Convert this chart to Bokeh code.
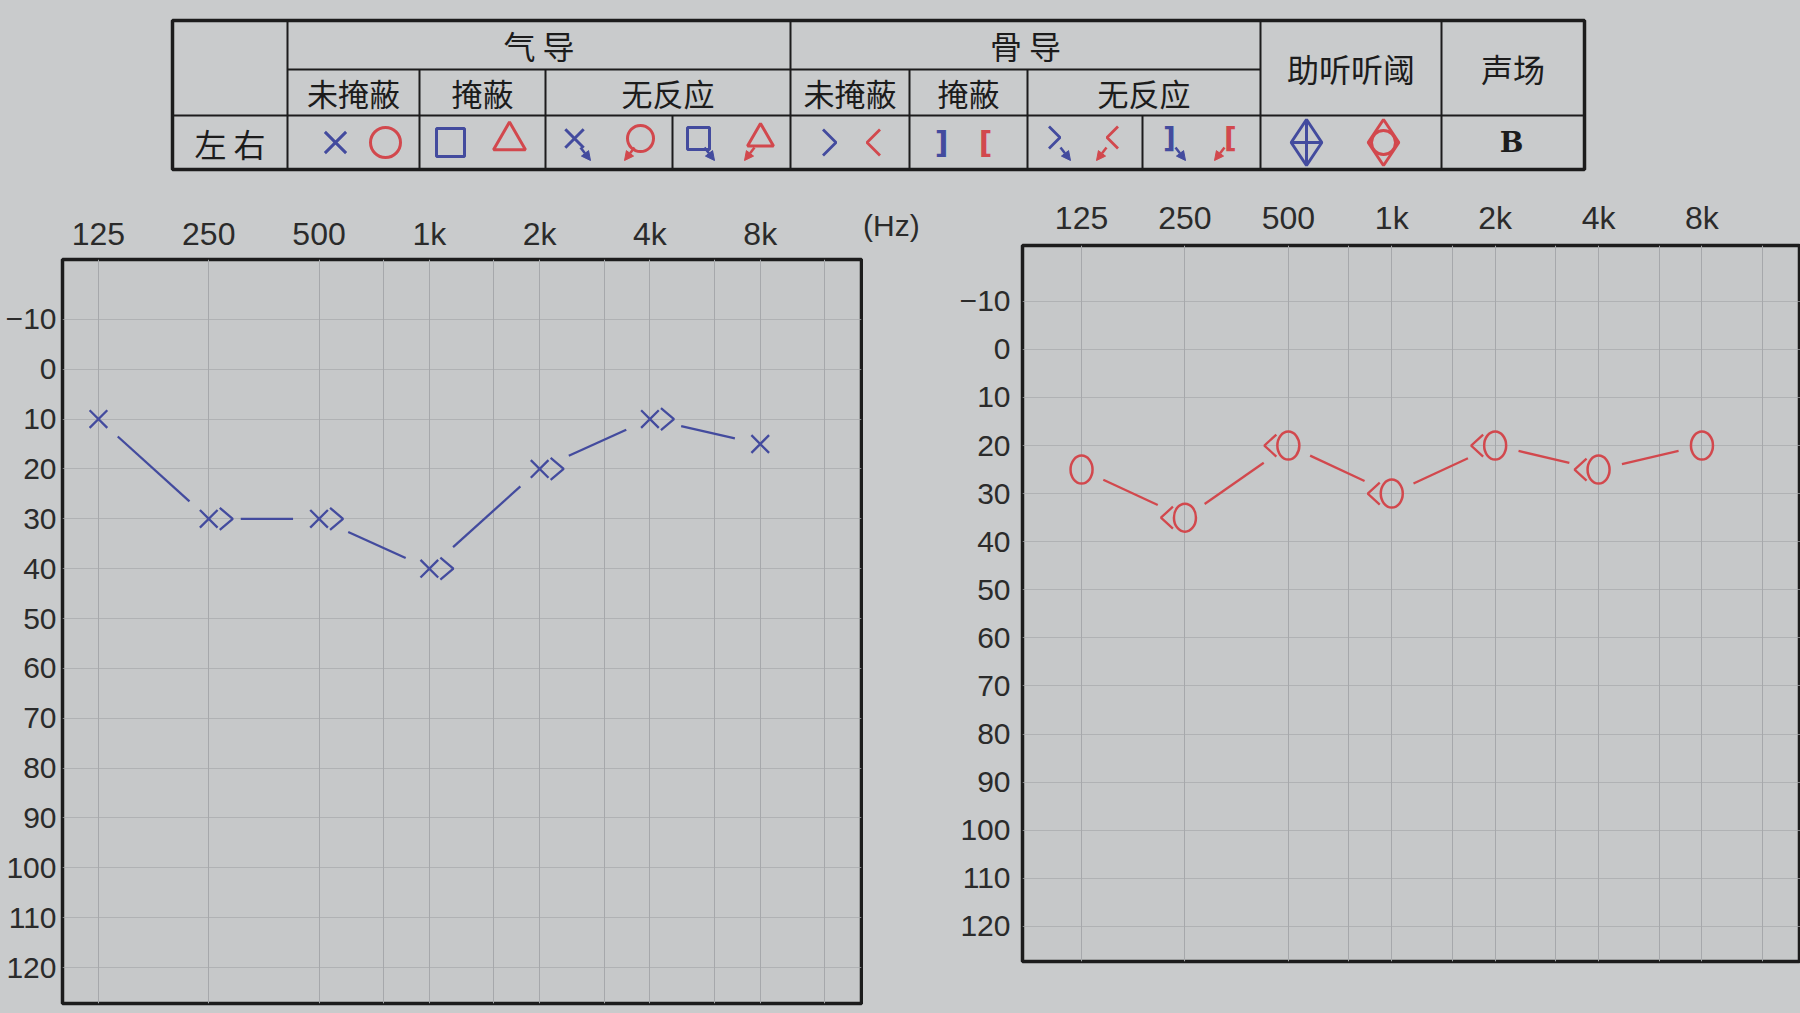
import numpy as np
from bokeh.plotting import figure
from bokeh.layouts import column, row
from bokeh.models import Range1d, FixedTicker, Arrow, NormalHead, Div
from bokeh.embed import file_html
from bokeh.resources import INLINE
from bokeh.core.properties import value

# ---------------- data ----------------
freqs = [125, 250, 500, 1000, 2000, 4000, 8000]
freq_labels = ["125", "250", "500", "1k", "2k", "4k", "8k"]
half_octaves = [750, 1500, 3000, 6000, 12000]
db_ticks = list(range(-10, 130, 10))

left_air_db = [10, 30, 30, 40, 20, 10, 15]
left_bone_freqs = [250, 500, 1000, 2000, 4000]
left_bone_db = [30, 30, 40, 20, 10]

right_air_db = [25, 35, 20, 30, 20, 25, 20]
right_bone_freqs = [250, 500, 1000, 2000, 4000]
right_bone_db = [35, 20, 30, 20, 25]

# legend table texts
hdr_air = "气 导"
hdr_bone = "骨 导"
hdr_sub = ["未掩蔽", "掩蔽", "无反应"]
hdr_aided = "助听听阈"
hdr_field = "声场"
hdr_ear = "左 右"
unit_label = "(Hz)"

# ---------------- style ----------------
BLUE = "#434b9e"
RED = "#d2484d"
PAPER = "#c9cbcc"
FRAME = "#c6c8c9"
GRID = "#a6a8ab"
INK = "#1c1c1c"
LBL = "#2b2b2b"
CJK = "Noto Sans CJK SC"
NUMF = "Liberation Sans"

# ---------------- legend table ----------------
TW, TH = 1800, 180
t = figure(width=TW, height=TH, x_range=Range1d(0, TW), y_range=Range1d(TH, 0),
           output_backend="svg", toolbar_location=None, min_border=0)
t.axis.visible = False
t.grid.visible = False
t.outline_line_color = None
t.background_fill_color = PAPER
t.border_fill_color = PAPER

L, R, T0, R1, R2, B0 = 172, 1584, 20, 69, 115, 169
cols = [172, 287, 419, 545, 672, 790, 909, 1027, 1142, 1260, 1441, 1584]

t.quad(left=L, right=R, top=T0, bottom=B0, fill_color=None, line_color=INK, line_width=3.5)
segs = [
    (cols[1], T0, cols[1], B0), (cols[5], T0, cols[5], B0), (cols[9], T0, cols[9], B0),
    (cols[10], T0, cols[10], B0), (cols[1], R1, cols[9], R1), (L, R2, R, R2),
    (cols[2], R1, cols[2], B0), (cols[3], R1, cols[3], B0), (cols[6], R1, cols[6], B0),
    (cols[7], R1, cols[7], B0), (cols[4], R2, cols[4], B0), (cols[8], R2, cols[8], B0),
]
t.segment(x0=[s[0] for s in segs], y0=[s[1] for s in segs], x1=[s[2] for s in segs],
          y1=[s[3] for s in segs], line_color=INK, line_width=2)

def ttext(x, y, s, size="32px", color=INK, font=CJK, style="normal"):
    t.text(x=[x], y=[y], text=[s], text_font=value(font), text_font_size=size,
           text_color=color, text_align="center", text_baseline="middle", text_font_style=style)

def tchev(cx, cy, d, w, h, color):
    # chevron pointing right (d=1) or left (d=-1), in table pixel space
    t.line(x=[cx - d * w / 2, cx + d * w / 2, cx - d * w / 2], y=[cy - h / 2, cy, cy + h / 2],
           line_color=color, line_width=2.8)

mid = lambda a, b: (a + b) / 2
ttext(mid(cols[1], cols[5]), mid(T0, R1), hdr_air)
ttext(mid(cols[5], cols[9]), mid(T0, R1), hdr_bone)
ttext(mid(cols[9], cols[10]), mid(T0, R2), hdr_aided)
ttext(mid(cols[10], cols[11]), mid(T0, R2), hdr_field)
for (a, b), s in zip([(1, 2), (2, 3), (3, 5), (5, 6), (6, 7), (7, 9)], hdr_sub * 2):
    ttext(mid(cols[a], cols[b]), mid(R1, R2), s, size="31px")
ttext(mid(cols[0], cols[1]), mid(R2, B0), hdr_ear, size="32px")

sy = mid(R2, B0)
t.scatter([335], [sy], marker="x", size=30, line_color=BLUE, line_width=3)
t.scatter([385], [sy], marker="circle", size=30, line_color=RED, line_width=3, fill_color=None)
t.scatter([450], [sy], marker="square", size=28, line_color=BLUE, line_width=3, fill_color=None)
t.scatter([509], [sy - 2], marker="triangle", size=32, line_color=RED, line_width=3, fill_color=None)
# no response (air)
t.scatter([574], [sy - 4], marker="x", size=26, line_color=BLUE, line_width=3)
t.scatter([640], [sy - 4], marker="circle", size=26, line_color=RED, line_width=3, fill_color=None)
t.scatter([698], [sy - 4], marker="square", size=22, line_color=BLUE, line_width=3, fill_color=None)
t.scatter([760], [sy - 4], marker="triangle", size=26, line_color=RED, line_width=3, fill_color=None)
# bone
tchev(829, sy, 1, 13, 26, BLUE)
tchev(873, sy, -1, 13, 26, RED)
ttext(941, sy, "]", size="30px", color=BLUE, font="DejaVu Sans", style="bold")
ttext(985, sy, "[", size="30px", color=RED, font="DejaVu Sans", style="bold")
tchev(1054, sy - 5, 1, 11, 22, BLUE)
tchev(1112, sy - 5, -1, 11, 22, RED)
ttext(1169, sy - 4, "]", size="28px", color=BLUE, font="DejaVu Sans", style="bold")
ttext(1230, sy - 4, "[", size="28px", color=RED, font="DejaVu Sans", style="bold")
for cx, col, d in [(574, BLUE, 1), (640, RED, -1), (698, BLUE, 1), (760, RED, -1),
                   (1054, BLUE, 1), (1112, RED, -1), (1169, BLUE, 1), (1230, RED, -1)]:
    t.add_layout(Arrow(end=NormalHead(size=9, fill_color=col, line_color=col),
                       x_start=cx + d * 6, y_start=sy + 5, x_end=cx + d * 16, y_end=sy + 18,
                       line_color=col, line_width=2.5))
# aided thresholds
t.scatter([1306], [sy], marker="diamond_cross", size=46, line_color=BLUE, line_width=3, fill_color=None)
t.scatter([1383], [sy], marker="diamond", size=46, line_color=RED, line_width=3, fill_color=None)
t.scatter([1383], [sy], marker="circle", size=24, line_color=RED, line_width=3, fill_color=None)
ttext(1511, sy, "B", size="28px", font="DejaVu Serif", style="bold")

# ---------------- audiograms ----------------
def to_screen(fs, dbs, ppo, ppd):
    return np.log2(np.asarray(fs, float) / 125.0) * ppo, np.asarray(dbs, float) * ppd


def from_screen(u, v, ppo, ppd):
    return 125 * 2 ** (np.asarray(u) / ppo), np.asarray(v) / ppd


def gapped(fs, dbs, ppo, ppd, gs, ge):
    u, v = to_screen(fs, dbs, ppo, ppd)
    X0, Y0, X1, Y1 = [], [], [], []
    for i in range(len(fs) - 1):
        du, dv = u[i + 1] - u[i], v[i + 1] - v[i]
        n = np.hypot(du, dv)
        ex, ey = du / n, dv / n
        a = from_screen(u[i] + ex * gs[i], v[i] + ey * gs[i], ppo, ppd)
        b = from_screen(u[i + 1] - ex * ge[i], v[i + 1] - ey * ge[i], ppo, ppd)
        X0.append(float(a[0])); Y0.append(float(a[1]))
        X1.append(float(b[0])); Y1.append(float(b[1]))
    return X0, Y0, X1, Y1


def chevrons(fs, dbs, ppo, ppd, shape):
    u, v = to_screen(fs, dbs, ppo, ppd)
    xs, ys = [], []
    for ui, vi in zip(u, v):
        cx, cy = from_screen([ui + dx for dx, _ in shape], [vi + dy for _, dy in shape], ppo, ppd)
        xs.append(list(map(float, cx)))
        ys.append(list(map(float, cy)))
    return xs, ys


def audiogram(width, height, mbl, mbr, mbt, mbb, oct_lo, oct_hi, db_bottom, db_top, ystand, xstand):
    p = figure(width=width, height=height, x_axis_type="log", x_axis_location="above",
               x_range=Range1d(125 * 2 ** oct_lo, 125 * 2 ** oct_hi),
               y_range=Range1d(db_bottom, db_top),
               min_border_left=mbl, min_border_right=mbr, min_border_top=mbt, min_border_bottom=mbb,
               output_backend="svg", toolbar_location=None)
    p.background_fill_color = FRAME
    p.border_fill_color = PAPER
    p.outline_line_color = INK
    p.outline_line_width = 3.5
    xt = FixedTicker(ticks=freqs, minor_ticks=half_octaves)
    p.xaxis.ticker = xt
    p.xgrid.ticker = xt
    p.xaxis.major_label_overrides = dict(zip(freqs, freq_labels))
    yt = FixedTicker(ticks=db_ticks)
    p.yaxis.ticker = yt
    p.ygrid.ticker = yt
    for ax in (p.xaxis[0], p.yaxis[0]):
        ax.axis_line_color = None
        ax.major_tick_line_color = None
        ax.minor_tick_line_color = None
        ax.major_tick_out = 0
        ax.major_label_text_font = NUMF
        ax.major_label_text_color = LBL
    p.xaxis.major_label_text_font_size = "32px"
    p.yaxis.major_label_text_font_size = "30px"
    p.xaxis.major_label_standoff = xstand
    p.yaxis.major_label_standoff = ystand
    p.xgrid.grid_line_color = GRID
    p.xgrid.minor_grid_line_color = GRID
    p.ygrid.grid_line_color = GRID
    p.ygrid.grid_line_alpha = 0.7
    fw = width - mbl - mbr
    fh = height - mbt - mbb
    ppo = fw / (oct_hi - oct_lo)
    ppd = fh / (db_bottom - db_top)
    return p, ppo, ppd

H = 832
# left ear
lp, lppo, lppd = audiogram(863, H, 62, 2, 79, 9, -0.326, 6.918, 127.2, -22.0, 6, 4)
gs = [32 if f in left_bone_freqs else 26 for f in freqs[:-1]]
ge = [26] * (len(freqs) - 1)
x0, y0, x1, y1 = gapped(freqs, left_air_db, lppo, lppd, gs, ge)
lp.segment(x0=x0, y0=y0, x1=x1, y1=y1, line_color=BLUE, line_width=2.3)
lp.scatter(freqs, left_air_db, marker="x", size=25, line_color=BLUE, line_width=2.3)
cx, cy = chevrons(left_bone_freqs, left_bone_db, lppo, lppd, [(11, -11), (24, 0), (11, 11)])
lp.multi_line(xs=cx, ys=cy, line_color=BLUE, line_width=2.3)

hz = Div(text='<div style="font-family:\'Liberation Sans\',Arial,sans-serif;font-size:30px;'
              'color:%s;padding-top:25px;white-space:nowrap">%s</div>' % (LBL, unit_label),
         width=72, height=90, margin=0, styles={"background-color": PAPER})

# right ear (the chart runs on past the right edge of the photo)
rp, rppo, rppd = audiogram(865, H, 87, 0, 65, 51, -0.571, 6.953, 127.3, -21.6, 12, 6)
gs = [24] * (len(freqs) - 1)
ge = [30 if f in right_bone_freqs else 24 for f in freqs[1:]]
x0, y0, x1, y1 = gapped(freqs, right_air_db, rppo, rppd, gs, ge)
rp.segment(x0=x0, y0=y0, x1=x1, y1=y1, line_color=RED, line_width=2.3)
rp.ellipse(x=freqs, y=right_air_db, width=22, height=28, width_units="screen",
           height_units="screen", fill_color=None, line_color=RED, line_width=2.5)
cx, cy = chevrons(right_bone_freqs, right_bone_db, rppo, rppd, [(-12, -11), (-24, 0), (-12, 11)])
rp.multi_line(xs=cx, ys=cy, line_color=RED, line_width=2.3)

layout = column(t, row(column(lp), hz, column(rp)))
html = file_html(layout, INLINE)
html = html.replace("</head>", "<style>html,body{background:#c9cbcc;margin:0;}</style></head>", 1)
open("out.html", "w").write(html)
